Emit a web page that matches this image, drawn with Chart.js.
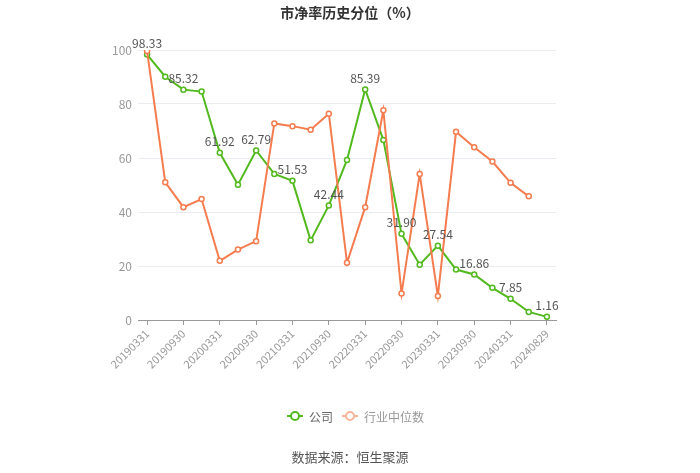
<!DOCTYPE html>
<html>
<head>
<meta charset="utf-8">
<script src="https://cdn.jsdelivr.net/npm/chart.js@4/dist/chart.umd.min.js"></script>
<style>
html,body{margin:0;padding:0;background:#fff;}
#wrap{position:relative;width:700px;height:473px;}
</style>
</head>
<body>
<div id="wrap"><canvas id="c" width="700" height="473"></canvas></div>
<script>
const categories = ["20190331","20190630","20190930","20191231","20200331","20200630","20200930","20201231","20210331","20210630","20210930","20211231","20220331","20220630","20220930","20221231","20230331","20230630","20230930","20231231","20240331","20240630","20240829"];
const companyValues = [98.33,90.1,85.32,84.6,61.92,50.1,62.79,54.1,51.53,29.5,42.44,59.3,85.39,66.7,31.90,20.5,27.54,18.7,16.86,11.9,7.85,3.0,1.16];
const industryValues = [99.6,51.0,41.8,44.8,21.9,26.1,29.2,72.8,71.8,70.5,76.4,21.2,41.8,77.7,9.8,54.1,8.9,69.7,64.0,58.7,50.8,45.8,null];
const labeledIndexes = [0,2,4,6,8,10,12,14,16,18,20,22];
const yTicks = [0,20,40,60,80,100];
const seriesNames = ["公司","行业中位数"];
const titleText = "市净率历史分位（%）";
const sourceText = "数据来源：恒生聚源";

const GREEN = "#52b91e";
const ORANGE = "#f47c4f";
const FONT = "'Noto Sans CJK SC','Noto Sans',sans-serif";

const overlay = {
  id: "overlay",
  afterDatasetsDraw(chart) {
    const ctx = chart.ctx;
    const meta = chart.getDatasetMeta(1);
    ctx.save();
    ctx.font = "12px " + FONT;
    ctx.fillStyle = "#555";
    ctx.textAlign = "center";
    ctx.textBaseline = "bottom";
    labeledIndexes.forEach(i => {
      const el = meta.data[i];
      if (!el) return;
      ctx.fillText(companyValues[i].toFixed(2), el.x, el.y - 5);
    });
    ctx.restore();
  },
  afterDraw(chart) {
    const ctx = chart.ctx;
    ctx.save();
    // title
    ctx.font = "bold 14px " + FONT;
    ctx.fillStyle = "#333";
    ctx.textAlign = "center";
    ctx.textBaseline = "middle";
    ctx.fillText(titleText, 350, 13);
    // legend
    const ly = 416;
    const items = [
      {x: 287, color: GREEN, text: seriesNames[0], tc: "#666"},
      {x: 342, color: "#f7b49b", text: seriesNames[1], tc: "#999"}
    ];
    ctx.font = "12px " + FONT;
    ctx.textAlign = "left";
    items.forEach(it => {
      ctx.strokeStyle = it.color;
      ctx.lineWidth = 2;
      ctx.beginPath();
      ctx.moveTo(it.x, ly); ctx.lineTo(it.x + 16, ly);
      ctx.stroke();
      ctx.beginPath();
      ctx.arc(it.x + 8, ly, 4, 0, Math.PI * 2);
      ctx.fillStyle = "#fff";
      ctx.fill();
      ctx.stroke();
      ctx.fillStyle = it.tc;
      ctx.fillText(it.text, it.x + 22, ly + 1);
    });
    // source
    ctx.font = "13px " + FONT;
    ctx.fillStyle = "#555";
    ctx.textAlign = "center";
    ctx.fillText(sourceText, 350, 457);
    ctx.restore();
  }
};

new Chart(document.getElementById("c"), {
  type: "line",
  data: {
    labels: categories,
    datasets: [
      {
        label: seriesNames[1],
        data: industryValues,
        borderColor: ORANGE,
        backgroundColor: "#fff",
        borderWidth: 2,
        pointRadius: 2.5,
        pointBorderWidth: 1.5,
        pointBackgroundColor: "#fff",
        pointBorderColor: ORANGE,
        tension: 0,
        spanGaps: false
      },
      {
        label: seriesNames[0],
        data: companyValues,
        borderColor: GREEN,
        backgroundColor: "#fff",
        borderWidth: 2,
        pointRadius: 2.5,
        pointBorderWidth: 1.5,
        pointBackgroundColor: "#fff",
        pointBorderColor: GREEN,
        tension: 0
      }
    ]
  },
  options: {
    responsive: false,
    animation: false,
    layout: { padding: { left: 0, right: 144, top: 50, bottom: 83 } },
    plugins: { legend: { display: false }, title: { display: false }, tooltip: { enabled: false } },
    scales: {
      x: {
        type: "category",
        offset: true,
        grid: { display: true, drawOnChartArea: false, drawTicks: true, tickLength: 5, color: "#999", offset: false },
        border: { display: true, color: "#999", width: 1 },
        ticks: {
          autoSkip: false,
          maxRotation: 45,
          minRotation: 45,
          color: "#999",
          font: { size: 11, family: FONT },
          padding: 2,
          callback: function(v, i) { return i % 2 === 0 ? categories[i] : null; }
        },
        afterFit: s => { s.height = 70; }
      },
      y: {
        min: 0,
        max: 100,
        afterBuildTicks: s => { s.ticks = yTicks.map(v => ({ value: v })); },
        grid: { color: "#e9ecf1", drawTicks: false, lineWidth: 1 },
        border: { display: false },
        ticks: { color: "#999", font: { size: 12, family: FONT }, padding: 6 },
        afterFit: s => { s.width = 138; }
      }
    }
  },
  plugins: [overlay]
});
</script>
</body>
</html>
